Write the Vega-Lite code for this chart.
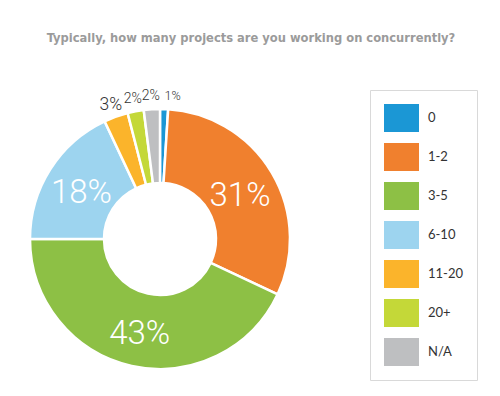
{
  "$schema": "https://vega.github.io/schema/vega-lite/v6.json",
  "width": 260,
  "height": 260,
  "autosize": {"type": "none"},
  "padding": {"left": 30, "top": 109, "right": 210, "bottom": 27},
  "background": "white",
  "title": {
    "text": "Typically, how many projects are you working on concurrently?",
    "font": "DejaVu Sans Condensed",
    "fontSize": 12.8,
    "fontWeight": "bold",
    "color": "#9b9b9b",
    "anchor": "middle",
    "dx": 91,
    "offset": 38,
    "baseline": "middle"
  },
  "data": {
    "values": [
      {"idx": 1, "answer": "0", "share": 0.01},
      {"idx": 2, "answer": "1-2", "share": 0.31},
      {"idx": 3, "answer": "3-5", "share": 0.43},
      {"idx": 4, "answer": "6-10", "share": 0.18},
      {"idx": 5, "answer": "11-20", "share": 0.03},
      {"idx": 6, "answer": "20+", "share": 0.02},
      {"idx": 7, "answer": "N/A", "share": 0.02}
    ]
  },
  "encoding": {
    "theta": {"field": "share", "type": "quantitative", "stack": true},
    "order": {"field": "idx", "type": "quantitative"}
  },
  "layer": [
    {
      "mark": {"type": "arc", "innerRadius": 56, "outerRadius": 130, "stroke": "white", "strokeWidth": 2.5},
      "encoding": {
        "color": {
          "field": "answer",
          "type": "nominal",
          "sort": ["0", "1-2", "3-5", "6-10", "11-20", "20+", "N/A"],
          "scale": {
            "domain": ["0", "1-2", "3-5", "6-10", "11-20", "20+", "N/A"],
            "range": ["#1b97d5", "#f0802e", "#8dc045", "#9dd4ef", "#fbb42b", "#c4d838", "#bebfc1"]
          },
          "legend": {
            "orient": "none",
            "legendX": 340,
            "legendY": -19,
            "title": null,
            "padding": 14,
            "fillColor": "white",
            "strokeColor": "#d9d9d9",
            "symbolType": "M-1,-1H1.5V1H-1Z",
            "symbolSize": 784,
            "symbolStrokeWidth": 0,
            "symbolOpacity": 1,
            "rowPadding": 11,
            "labelOffset": 16,
            "labelFont": "Lato",
            "labelFontSize": 13,
            "labelColor": "#333333"
          }
        }
      }
    },
    {
      "mark": {"type": "text", "radius": 93, "dy": 4, "color": "white", "font": "Roboto", "fontWeight": 300, "fontSize": 33},
      "encoding": {
        "text": {"field": "share", "type": "quantitative", "format": ".0%", "condition": {"test": "datum.share < 0.1", "value": ""}}
      }
    },
    {
      "mark": {"type": "text", "radius": 145, "dy": 2, "color": "#333333", "font": "Roboto", "fontWeight": 300, "align": {"expr": "datum.idx == 1 ? 'left' : 'center'"}},
      "encoding": {
        "text": {"field": "share", "type": "quantitative", "format": ".0%", "condition": {"test": "datum.share >= 0.1", "value": ""}},
        "size": {"field": "share", "type": "quantitative", "scale": {"domain": [0.01, 0.02, 0.03], "range": [12.5, 14, 17.5], "clamp": true}, "legend": null}
      }
    }
  ]
}
